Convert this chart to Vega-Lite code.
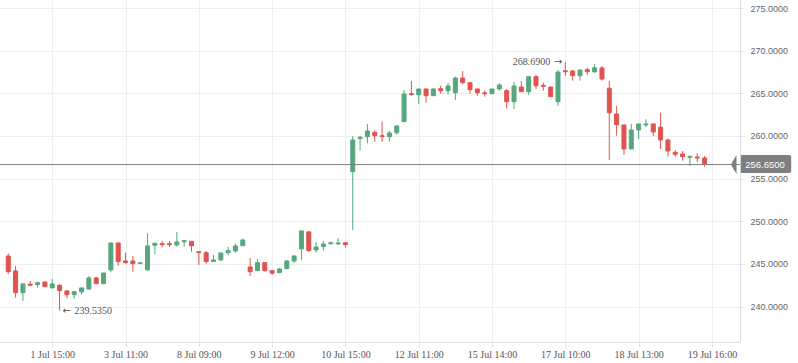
{
  "$schema": "https://vega.github.io/schema/vega-lite/v6.json",
  "width": 740,
  "height": 342,
  "autosize": "none",
  "padding": {"left": 0, "top": 0, "right": 58, "bottom": 21},
  "background": "white",
  "config": {"view": {"stroke": null}},
  "data": {"values": [
    {"i":0,"o":245.93,"h":246.24,"l":243.82,"c":244.09},
    {"i":1,"o":244.18,"h":244.76,"l":241.05,"c":241.64},
    {"i":2,"o":241.64,"h":242.66,"l":240.70,"c":242.66},
    {"i":3,"o":242.62,"h":243.00,"l":242.42,"c":242.50},
    {"i":4,"o":242.57,"h":242.92,"l":242.22,"c":242.81},
    {"i":5,"o":242.89,"h":242.89,"l":242.34,"c":242.34},
    {"i":6,"o":242.19,"h":243.24,"l":242.19,"c":242.66},
    {"i":7,"o":242.50,"h":242.62,"l":239.535,"c":241.87},
    {"i":8,"o":241.84,"h":241.90,"l":240.98,"c":241.40},
    {"i":9,"o":241.40,"h":241.84,"l":240.93,"c":241.75},
    {"i":10,"o":241.72,"h":242.19,"l":241.40,"c":242.19},
    {"i":11,"o":242.07,"h":243.59,"l":241.99,"c":243.36},
    {"i":12,"o":243.36,"h":243.48,"l":242.62,"c":242.69},
    {"i":13,"o":242.69,"h":243.94,"l":242.62,"c":243.94},
    {"i":14,"o":244.30,"h":247.46,"l":244.03,"c":247.46},
    {"i":15,"o":247.46,"h":247.46,"l":244.80,"c":245.27},
    {"i":16,"o":245.35,"h":246.32,"l":245.03,"c":245.15},
    {"i":17,"o":245.35,"h":245.93,"l":244.09,"c":245.03},
    {"i":18,"o":245.06,"h":245.13,"l":245.06,"c":245.13},
    {"i":19,"o":244.30,"h":248.60,"l":244.22,"c":247.11},
    {"i":20,"o":247.19,"h":247.49,"l":246.14,"c":247.42},
    {"i":21,"o":247.38,"h":247.69,"l":246.96,"c":247.26},
    {"i":22,"o":247.38,"h":247.69,"l":247.00,"c":247.26},
    {"i":23,"o":247.23,"h":248.75,"l":247.03,"c":247.58},
    {"i":24,"o":247.61,"h":247.81,"l":247.03,"c":247.73},
    {"i":25,"o":247.66,"h":247.66,"l":246.44,"c":247.14},
    {"i":26,"o":246.44,"h":246.44,"l":244.88,"c":246.32},
    {"i":27,"o":246.32,"h":246.52,"l":245.03,"c":245.27},
    {"i":28,"o":245.27,"h":246.05,"l":245.27,"c":245.47},
    {"i":29,"o":245.47,"h":246.29,"l":245.35,"c":246.29},
    {"i":30,"o":246.32,"h":246.99,"l":245.97,"c":246.56},
    {"i":31,"o":246.52,"h":247.38,"l":246.32,"c":247.11},
    {"i":32,"o":247.14,"h":247.96,"l":247.14,"c":247.81},
    {"i":33,"o":244.65,"h":245.70,"l":243.59,"c":244.09},
    {"i":34,"o":244.22,"h":245.58,"l":244.22,"c":245.15},
    {"i":35,"o":245.15,"h":245.15,"l":244.09,"c":244.22},
    {"i":36,"o":244.22,"h":244.22,"l":243.75,"c":243.91},
    {"i":37,"o":243.98,"h":244.53,"l":243.91,"c":244.41},
    {"i":38,"o":244.45,"h":245.47,"l":244.38,"c":245.35},
    {"i":39,"o":245.35,"h":246.05,"l":245.11,"c":245.93},
    {"i":40,"o":246.76,"h":248.87,"l":245.47,"c":248.87},
    {"i":41,"o":248.75,"h":248.87,"l":246.40,"c":246.56},
    {"i":42,"o":246.64,"h":247.58,"l":246.32,"c":246.99},
    {"i":43,"o":247.03,"h":247.69,"l":246.56,"c":247.34},
    {"i":44,"o":247.38,"h":247.61,"l":247.26,"c":247.49},
    {"i":45,"o":247.34,"h":248.05,"l":247.26,"c":247.46},
    {"i":46,"o":247.49,"h":247.49,"l":246.91,"c":247.26},
    {"i":47,"o":255.82,"h":260.00,"l":248.98,"c":259.53},
    {"i":48,"o":259.69,"h":260.00,"l":258.28,"c":259.85},
    {"i":49,"o":259.92,"h":261.41,"l":259.14,"c":260.59},
    {"i":50,"o":260.43,"h":260.67,"l":259.33,"c":260.03},
    {"i":51,"o":260.03,"h":261.68,"l":259.33,"c":259.92},
    {"i":52,"o":259.92,"h":260.59,"l":259.33,"c":260.35},
    {"i":53,"o":260.39,"h":261.29,"l":260.15,"c":261.17},
    {"i":54,"o":261.68,"h":265.39,"l":261.68,"c":264.92},
    {"i":55,"o":264.96,"h":266.45,"l":264.72,"c":264.84},
    {"i":56,"o":264.84,"h":265.51,"l":263.75,"c":265.51},
    {"i":57,"o":265.51,"h":265.51,"l":263.90,"c":264.72},
    {"i":58,"o":264.72,"h":265.62,"l":264.72,"c":265.51},
    {"i":59,"o":265.54,"h":265.89,"l":264.96,"c":265.31},
    {"i":60,"o":265.31,"h":266.21,"l":264.84,"c":265.86},
    {"i":61,"o":265.07,"h":266.95,"l":264.22,"c":266.80},
    {"i":62,"o":266.80,"h":267.62,"l":266.09,"c":266.25},
    {"i":63,"o":266.25,"h":266.25,"l":264.96,"c":265.43},
    {"i":64,"o":265.51,"h":265.51,"l":264.72,"c":265.07},
    {"i":65,"o":265.07,"h":265.31,"l":264.60,"c":264.96},
    {"i":66,"o":264.96,"h":265.51,"l":264.96,"c":265.51},
    {"i":67,"o":265.51,"h":266.18,"l":265.31,"c":265.98},
    {"i":68,"o":265.31,"h":265.51,"l":263.20,"c":264.02},
    {"i":69,"o":264.02,"h":266.33,"l":263.16,"c":265.86},
    {"i":70,"o":265.74,"h":266.45,"l":265.19,"c":265.19},
    {"i":71,"o":265.19,"h":266.95,"l":264.80,"c":266.95},
    {"i":72,"o":266.95,"h":267.18,"l":265.51,"c":265.89},
    {"i":73,"o":265.94,"h":266.25,"l":265.31,"c":265.82},
    {"i":74,"o":265.74,"h":265.74,"l":264.61,"c":264.61},
    {"i":75,"o":264.02,"h":267.73,"l":263.55,"c":267.50},
    {"i":76,"o":267.65,"h":268.69,"l":267.07,"c":267.53},
    {"i":77,"o":267.62,"h":267.73,"l":266.48,"c":267.07},
    {"i":78,"o":267.07,"h":267.73,"l":266.48,"c":267.73},
    {"i":79,"o":267.77,"h":268.00,"l":267.18,"c":267.53},
    {"i":80,"o":267.50,"h":268.44,"l":267.50,"c":268.00},
    {"i":81,"o":267.97,"h":268.20,"l":266.48,"c":266.68},
    {"i":82,"o":265.59,"h":266.45,"l":257.19,"c":262.73},
    {"i":83,"o":262.58,"h":263.52,"l":260.03,"c":261.33},
    {"i":84,"o":261.29,"h":261.29,"l":257.77,"c":258.48},
    {"i":85,"o":258.48,"h":261.41,"l":258.48,"c":260.70},
    {"i":86,"o":260.70,"h":261.41,"l":259.65,"c":261.41},
    {"i":87,"o":261.29,"h":261.96,"l":261.02,"c":261.41},
    {"i":88,"o":261.41,"h":261.41,"l":260.00,"c":260.47},
    {"i":89,"o":261.02,"h":262.73,"l":258.48,"c":259.53},
    {"i":90,"o":259.53,"h":259.69,"l":257.57,"c":258.24},
    {"i":91,"o":258.09,"h":258.36,"l":257.57,"c":257.86},
    {"i":92,"o":257.89,"h":258.24,"l":257.11,"c":257.57},
    {"i":93,"o":257.50,"h":257.62,"l":256.48,"c":257.62},
    {"i":94,"o":257.54,"h":257.97,"l":256.95,"c":257.42},
    {"i":95,"o":257.42,"h":257.66,"l":256.40,"c":256.72},
    {"i":96,"o":256.65,"h":256.65,"l":256.65,"c":256.65}
  ]},
  "encoding": {
    "x": {
      "field": "i", "type": "quantitative",
      "scale": {"domain": [-0.444, 99.15], "nice": false, "zero": false},
      "axis": {
        "title": null,
        "values": [6,16,26,36,46,56,66,76,86,96],
        "labelExpr": "['1 Jul 15:00','3 Jul 11:00','8 Jul 09:00','9 Jul 12:00','10 Jul 15:00','12 Jul 11:00','15 Jul 14:00','17 Jul 10:00','18 Jul 13:00','19 Jul 16:00'][round((datum.value-6)/10)]",
        "labelFont": "Liberation Serif", "labelFontSize": 10, "labelColor": "#555555",
        "labelFlush": false, "labelOverlap": false, "labelPadding": 2,
        "tickSize": 5, "tickColor": "#e2e5e9", "domainColor": "#dcdfe3",
        "grid": true, "gridColor": "#eceef1"
      }
    },
    "y": {
      "field": "l", "type": "quantitative",
      "scale": {"domain": [235.85, 275.94], "nice": false, "zero": false},
      "axis": {
        "title": null, "orient": "right",
        "values": [240,245,250,255,260,265,270,275],
        "format": ".4f",
        "labelFont": "Liberation Sans", "labelFontSize": 9, "labelColor": "#666666",
        "labelPadding": 6, "tickSize": 4, "tickColor": "#e2e5e9", "domainColor": "#dcdfe3",
        "grid": true, "gridColor": "#eceef1"
      }
    },
    "color": {
      "condition": [
        {"test": "datum.c > datum.o", "value": "#56a77f"},
        {"test": "datum.c < datum.o", "value": "#e0534f"}
      ],
      "value": "#8a8a8a"
    }
  },
  "layer": [
    {
      "mark": {"type": "rule", "strokeWidth": 1},
      "encoding": {"y2": {"field": "h"}}
    },
    {
      "mark": {"type": "bar", "size": 4, "strokeWidth": 1},
      "encoding": {
        "y": {"field": "o", "type": "quantitative"},
        "y2": {"field": "c"},
        "stroke": {
          "condition": [
            {"test": "datum.c > datum.o", "value": "#56a77f"},
            {"test": "datum.c < datum.o", "value": "#e0534f"}
          ],
          "value": "#8a8a8a"
        }
      }
    },
    {
      "data": {"values": [{"price": 256.65, "top": 257.77, "bottom": 255.66, "left": 99.96, "right": 106.82, "tip": 99.29, "mid": 103.25, "label": "256.6500"}]},
      "layer": [
        {
          "mark": {"type": "rule", "color": "#808080", "strokeWidth": 1},
          "encoding": {"x": null, "color": null, "y": {"field": "price", "type": "quantitative"}}
        },
        {
          "mark": {"type": "rect", "color": "#7f7f7f", "cornerRadiusTopRight": 2, "cornerRadiusBottomRight": 2},
          "encoding": {
            "x": {"field": "left", "type": "quantitative"},
            "x2": {"field": "right"},
            "y": {"field": "top", "type": "quantitative"},
            "y2": {"field": "bottom"},
            "color": null
          }
        },
        {
          "mark": {"type": "point", "filled": true, "opacity": 1, "color": "#7f7f7f", "size": 400,
                   "shape": "M -0.52 0 L 0.05 -0.95 L 0.05 0.95 Z"},
          "encoding": {
            "x": {"field": "tip", "type": "quantitative"},
            "y": {"field": "price", "type": "quantitative"},
            "color": null
          }
        },
        {
          "mark": {"type": "text", "color": "white", "font": "Liberation Sans", "fontSize": 9.5, "align": "center", "baseline": "middle"},
          "encoding": {
            "x": {"field": "mid", "type": "quantitative"},
            "y": {"field": "price", "type": "quantitative"},
            "color": null,
            "text": {"field": "label"}
          }
        }
      ]
    },
    {
      "data": {"values": [{"i": 7, "v": 239.535, "label": "239.5350", "arrow": "←"}]},
      "encoding": {"x": {"field": "i", "type": "quantitative"}, "y": {"field": "v", "type": "quantitative"}, "color": null},
      "layer": [
        {"mark": {"type": "text", "align": "left", "baseline": "middle", "dx": 3, "font": "DejaVu Sans", "fontSize": 10, "color": "#555555"},
         "encoding": {"text": {"field": "arrow"}}},
        {"mark": {"type": "text", "align": "left", "baseline": "middle", "dx": 15, "font": "Liberation Serif", "fontSize": 10, "color": "#555555"},
         "encoding": {"text": {"field": "label"}}}
      ]
    },
    {
      "data": {"values": [{"i": 76, "v": 268.69, "label": "268.6900", "arrow": "→"}]},
      "encoding": {"x": {"field": "i", "type": "quantitative"}, "y": {"field": "v", "type": "quantitative"}, "color": null},
      "layer": [
        {"mark": {"type": "text", "align": "right", "baseline": "middle", "dx": -3, "font": "DejaVu Sans", "fontSize": 10, "color": "#555555"},
         "encoding": {"text": {"field": "arrow"}}},
        {"mark": {"type": "text", "align": "right", "baseline": "middle", "dx": -15, "font": "Liberation Serif", "fontSize": 10, "color": "#555555"},
         "encoding": {"text": {"field": "label"}}}
      ]
    }
  ]
}
